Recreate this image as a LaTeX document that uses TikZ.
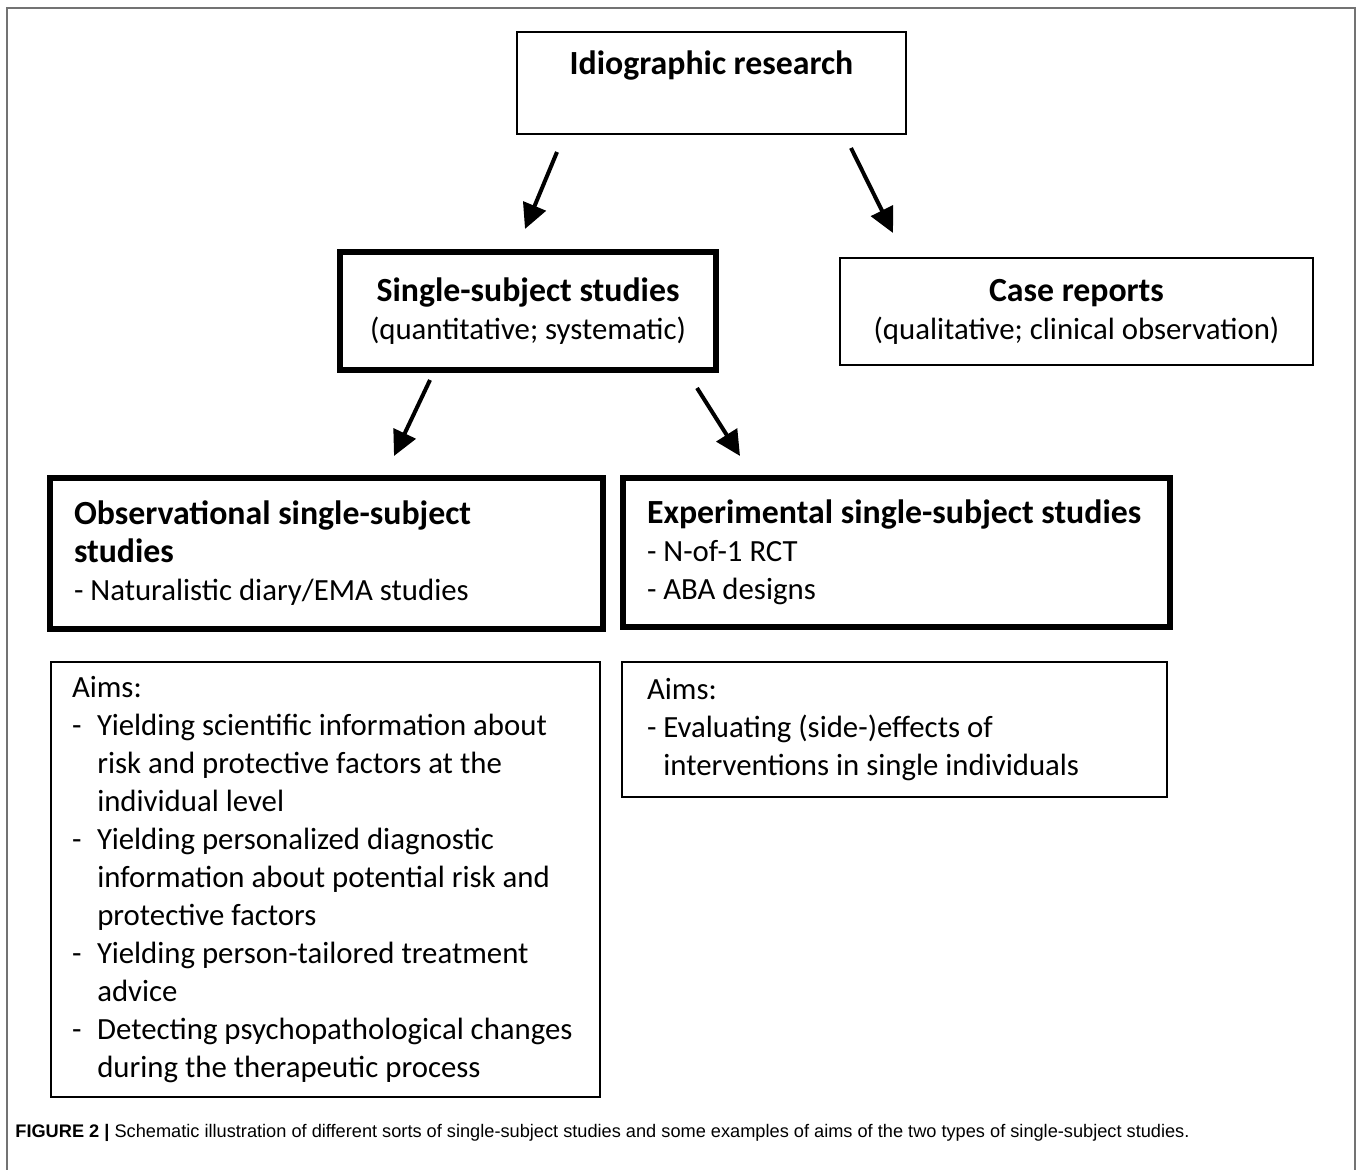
\documentclass[tikz,border=0pt]{standalone}
\usepackage{fontspec}
\setmainfont{Carlito}
\newfontfamily\capfont{Liberation Sans}
\usetikzlibrary{positioning, arrows.meta, calc}

\tikzset{
  box/.style={draw, line width=1pt, inner sep=0pt, align=center,
    font=\fontsize{15.4}{19}\selectfont},
  heavybox/.style={box, line width=2.8pt},
  listbox/.style={align=flush left},
  arr/.style={line width=2pt, -{Triangle[length=12.5pt, width=12pt]}}
}
\newcommand{\boxtitle}[1]{{\fontsize{16.9}{20}\selectfont\bfseries #1}}

\begin{document}
\begin{tikzpicture}[x=0.5pt, y=-0.5pt]
  \useasboundingbox (0,0) rectangle (1358,1170);
  \draw[line width=1.2pt, draw=black!55] (7,1175) -- (7,8) -- (1355,8) -- (1355,1175);

  % top level
  \node[box, minimum width=194.5pt, minimum height=51pt] (idio) at (711.5,83) {};
  \node[inner sep=0pt] (idiotext) at (711.5,66) {\boxtitle{Idiographic research}};

  % second level
  \node[heavybox, minimum width=188pt, minimum height=59pt] (single) at (528,311)
    {\boxtitle{Single-subject studies}\\(quantitative; systematic)};
  \node[box, minimum width=236.5pt, minimum height=53.5pt] (case) at (1076.5,311.5)
    {\boxtitle{Case reports}\\(qualitative; clinical observation)};

  % third level
  \node[heavybox, listbox, inner xsep=12pt, text width=252.5pt, minimum height=75.5pt] (obs) at (326.5,553.5)
    {\boxtitle{Observational single-subject}\\\boxtitle{studies}\\- Naturalistic diary/EMA studies};
  \node[heavybox, listbox, inner xsep=12pt, text width=249.5pt, minimum height=74.5pt] (exp) at (896.5,552.5)
    {\boxtitle{Experimental single-subject studies}\\- N-of-1 RCT\\- ABA designs};

  % aims
  \node[box, listbox, inner xsep=8pt, text width=258.5pt, minimum height=217.5pt] (obsaims) at (325.5,879.5)
    {\hspace*{2.5pt}Aims:\\
     \hspace*{2.5pt}\makebox[0.82em][l]{-}Yielding scientific information about\\
     \hspace*{2.5pt}\hspace*{0.82em}risk and protective factors at the\\
     \hspace*{2.5pt}\hspace*{0.82em}individual level\\
     \hspace*{2.5pt}\makebox[0.82em][l]{-}Yielding personalized diagnostic\\
     \hspace*{2.5pt}\hspace*{0.82em}information about potential risk and\\
     \hspace*{2.5pt}\hspace*{0.82em}protective factors\\
     \hspace*{2.5pt}\makebox[0.82em][l]{-}Yielding person-tailored treatment\\
     \hspace*{2.5pt}\hspace*{0.82em}advice\\
     \hspace*{2.5pt}\makebox[0.82em][l]{-}Detecting psychopathological changes\\
     \hspace*{2.5pt}\hspace*{0.82em}during the therapeutic process};
  \node[box, listbox, inner xsep=12.5pt, text width=247.5pt, minimum height=67.5pt] (expaims) at (894.5,729.5)
    {Aims:\\
     - Evaluating (side-)effects of\\
     \phantom{- }interventions in single individuals};

  % arrows
  \coordinate (a1s) at (557,152);  \coordinate (a1e) at (525,229);
  \coordinate (a2s) at (851,148);  \coordinate (a2e) at (893,233);
  \coordinate (a3s) at (430,380);  \coordinate (a3e) at (394,456);
  \coordinate (a4s) at (697,388);  \coordinate (a4e) at (740,456);
  \draw[arr] (a1s) -- (a1e);
  \draw[arr] (a2s) -- (a2e);
  \draw[arr] (a3s) -- (a3e);
  \draw[arr] (a4s) -- (a4e);

  % caption
  \node[anchor=west, inner sep=0pt, font=\capfont\fontsize{9.1}{11}\selectfont] (cap) at (15,1133)
    {\textbf{FIGURE 2 |} Schematic illustration of different sorts of single-subject studies and some examples of aims of the two types of single-subject studies.};
\end{tikzpicture}
\end{document}
